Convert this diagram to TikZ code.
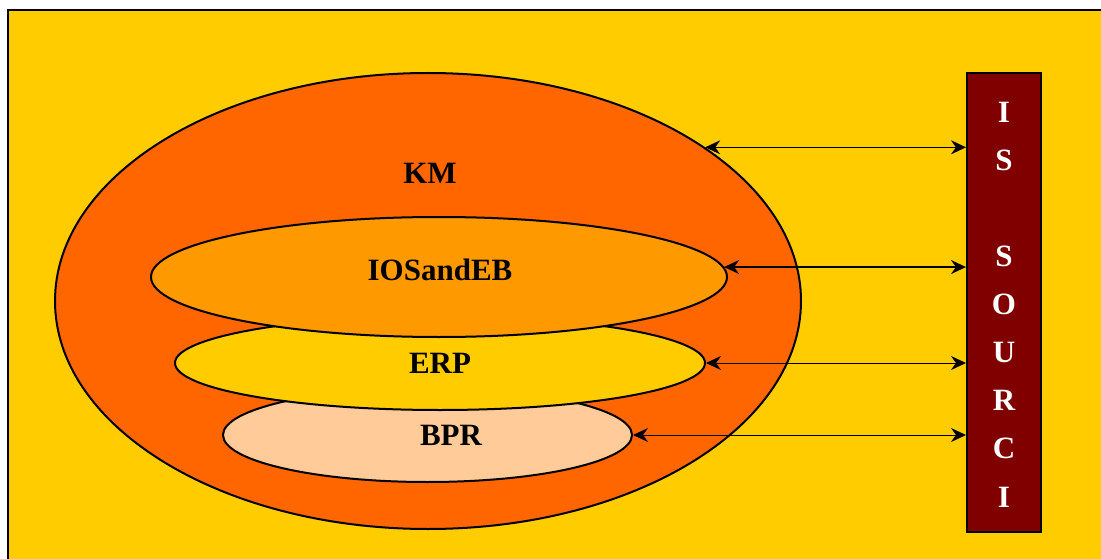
\documentclass[tikz,border=0pt]{standalone}
\usepackage{fontspec}
\setmainfont{Liberation Serif}
\usetikzlibrary{shapes.geometric,arrows.meta}
\definecolor{bgyellow}{HTML}{FFCC00}
\definecolor{kmorange}{HTML}{FF6600}
\definecolor{iosorange}{HTML}{FF9900}
\definecolor{bprpeach}{HTML}{FFCC99}
\definecolor{barmaroon}{HTML}{800000}
\tikzset{
  layer/.style={ellipse,draw=black,line width=2pt,inner sep=0pt},
  lbl/.style={font=\fontsize{31}{36}\selectfont\bfseries,inner sep=0pt},
  link/.style={{Stealth[length=15pt,width=14pt,inset=5pt]}-{Stealth[length=15pt,width=14pt,inset=5pt]},line width=1pt}
}
\begin{document}
\begin{tikzpicture}[x=1pt,y=-1pt]
\useasboundingbox (0,0) rectangle (1101,559);
\clip (0,0) rectangle (1101,559);
% background panel
\path[fill=white] (0,0) rectangle (1101,559);
\draw[fill=bgyellow,line width=2.2pt] (8,10) rectangle (1120,580);

% nested layers
\node[layer,fill=kmorange,minimum width=746pt,minimum height=456pt] (km) at (428,301) {};
\node[layer,fill=bprpeach,minimum width=409pt,minimum height=94pt] (bpr) at (427.5,435) {};
\node[layer,fill=bgyellow,minimum width=530pt,minimum height=94pt] (erp) at (440,363) {};
\node[layer,fill=iosorange,minimum width=576pt,minimum height=120pt] (ios) at (439,277) {};

% sourcing bar
\node[draw=black,line width=2pt,fill=barmaroon,minimum width=74pt,minimum height=459pt,inner sep=0pt] (is) at (1004,302.5) {};
\node[lbl,text=white,align=center,font=\fontsize{31}{48.1}\selectfont\bfseries] (istext) at (1004,304.5)
  {I\\S\\~\\S\\O\\U\\R\\C\\I};

% labels
\node[lbl] (kmtext) at (430,173) {KM};
\node[lbl] (iostext) at (440,270) {IOSandEB};
\node[lbl] (erptext) at (440,363) {ERP};
\node[lbl] (bprtext) at (451,435) {BPR};

% links to the bar
\draw[link] (km.29.25) -- (km.29.25 -| is.west);
\draw[link,line width=2pt] (ios.2.2) -- (ios.2.2 -| is.west);
\draw[link] (erp.east) -- (erp.east -| is.west);
\draw[link] (bpr.east) -- (bpr.east -| is.west);
\end{tikzpicture}
\end{document}
